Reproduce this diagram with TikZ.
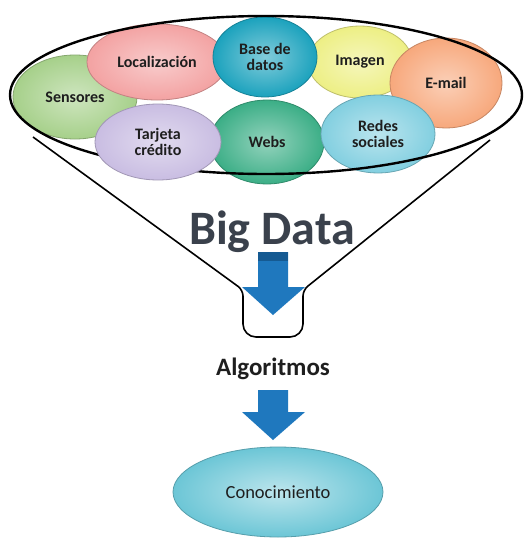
\documentclass[tikz,border=0pt]{standalone}
\usepackage{fontspec}
\setmainfont{Carlito}
\usetikzlibrary{shapes.geometric}
\definecolor{cSens}{HTML}{A6D08A}
\definecolor{cLoc}{HTML}{F3A2A2}
\definecolor{cBase}{HTML}{1BA2BD}
\definecolor{cImg}{HTML}{EDEF84}
\definecolor{cMail}{HTML}{F7A87C}
\definecolor{cTarj}{HTML}{C9BDE2}
\definecolor{cWebs}{HTML}{3BAE86}
\definecolor{cRedes}{HTML}{82CFE0}
\definecolor{cCono}{HTML}{6CC6D6}
\definecolor{cArrow}{HTML}{1F78BE}
\definecolor{cArrowTop}{HTML}{155A92}
\definecolor{txt}{HTML}{1E1E1E}
\definecolor{cBig}{HTML}{3A414C}
\tikzset{
  blob/.style={ellipse, draw=#1!80!black, line width=0.8pt, inner sep=0pt,
    inner color=#1!55!white, outer color=#1,
    font=\bfseries\fontsize{16}{16.5}\selectfont, text=txt, align=center},
  funnel/.style={draw=black, line width=1.6pt},
  bigarrow/.style={fill=cArrow, draw=none},
}
\begin{document}
\begin{tikzpicture}[x=1pt,y=-1pt]
\useasboundingbox (0,0) rectangle (526,538);
\fill[white] (0,0) rectangle (526,538);
% funnel sides
\draw[funnel, line join=round] (33,137) [rounded corners=6pt] -- (243,290) [rounded corners=13pt] -- (243,337) -- (303,337) [rounded corners=6pt] -- (303,290) [sharp corners] -- (490,140);
% small ellipses
\node[blob=cSens, minimum width=124pt, minimum height=84pt] (sens) at (75,97) {Sensores};
\node[blob=cLoc, minimum width=140pt, minimum height=76pt] (loc) at (157,62) {Localización};
\node[blob=cImg, minimum width=104pt, minimum height=72pt] (img) at (360,62) {Imagen};
\node[blob=cBase, minimum width=104pt, minimum height=80pt] (base) at (265,57) {Base de\\datos};
\node[blob=cMail, minimum width=112pt, minimum height=90pt] (mail) at (446,83) {E-mail};
\node[blob=cWebs, minimum width=114pt, minimum height=84pt] (webs) at (267,142) {Webs};
\node[blob=cRedes, minimum width=114pt, minimum height=78pt] (redes) at (378,134) {Redes\\sociales};
% big ellipse rim
\node[ellipse, draw=black, line width=2.4pt, minimum width=512pt, minimum height=158pt, inner sep=0pt] (rim) at (266,95) {};
\node[blob=cTarj, minimum width=126pt, minimum height=76pt] (tarj) at (158,142) {Tarjeta\\crédito};
% Big Data
\node[font=\bfseries\fontsize{48}{50}\selectfont, text=cBig, inner sep=0pt] (big) at (272,232) {Big Data};
% arrow 1
\fill[bigarrow] (258,252) -- (288,252) -- (288,287) -- (305,287) -- (273,315) -- (242,287) -- (258,287) -- cycle;
\fill[cArrowTop] (258,252) rectangle (288,261);
\node[font=\bfseries\fontsize{25}{27}\selectfont, text=txt, inner sep=0pt] (alg) at (273,369) {Algoritmos};
% arrow 2
\fill[bigarrow] (258,390) -- (288,390) -- (288,412) -- (305,412) -- (273,440) -- (242,412) -- (258,412) -- cycle;
\node[ellipse, draw=cCono!80!black, line width=0.8pt, inner color=cCono!45!white, outer color=cCono, minimum width=210pt, minimum height=90pt, inner sep=0pt, font=\fontsize{18.5}{20}\selectfont, text=txt] (cono) at (278,492) {Conocimiento};
\end{tikzpicture}
\end{document}
